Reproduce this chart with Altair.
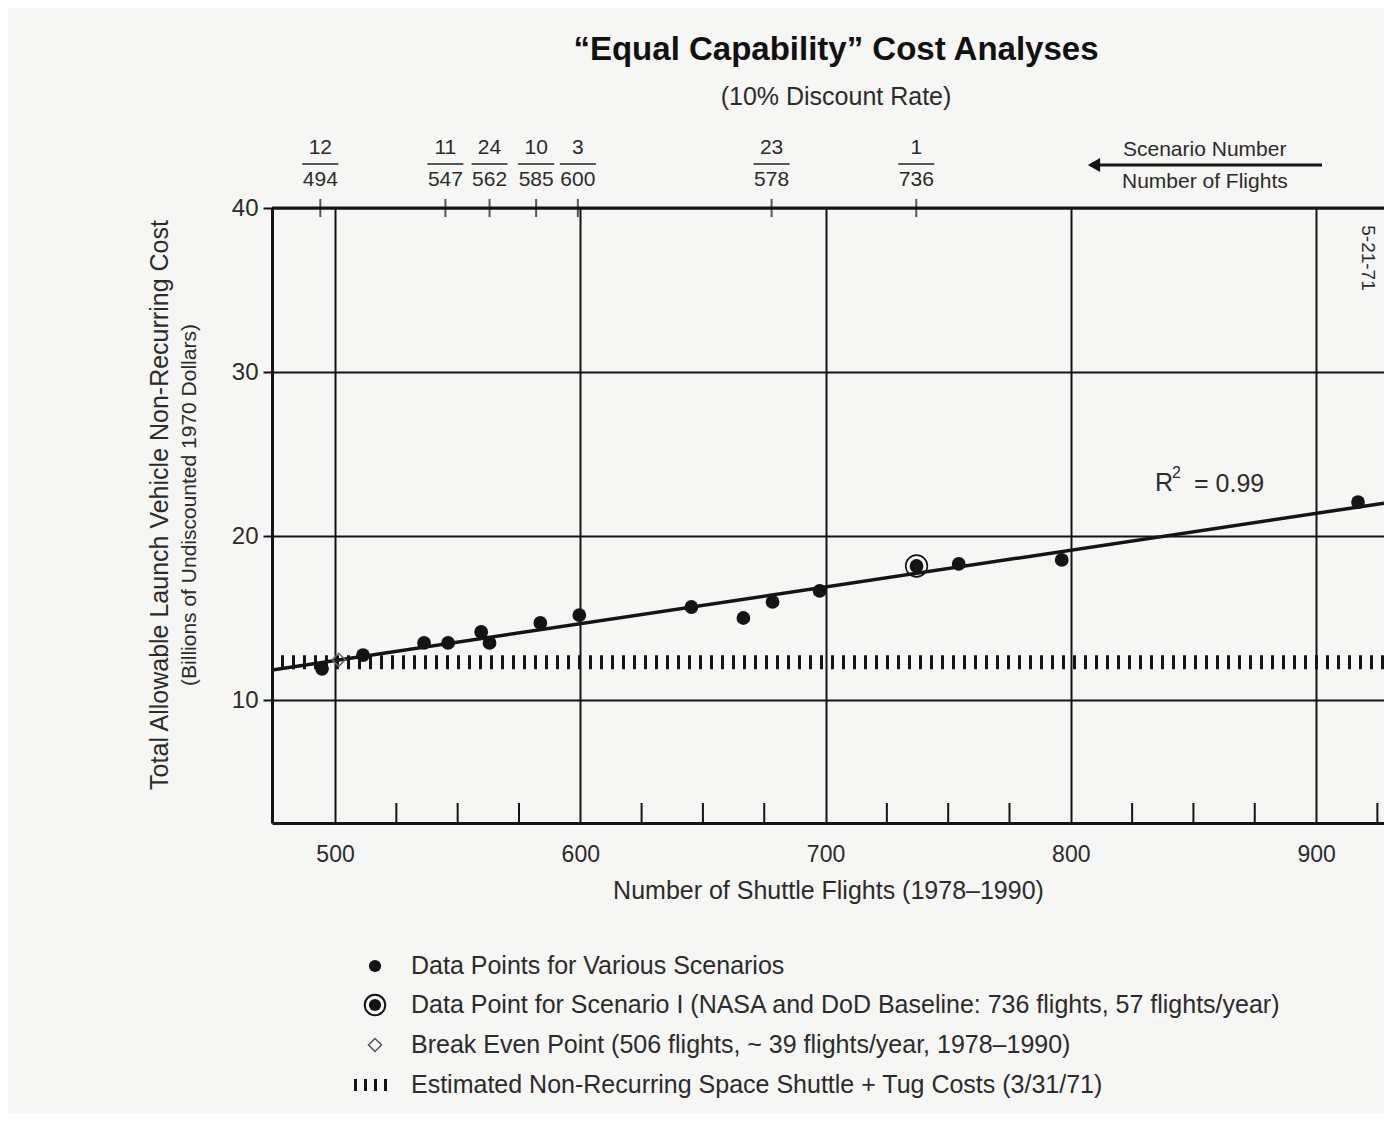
import altair as alt
import pandas as pd

# ---------------- data ----------------
scenario_flights = [494.7, 511.4, 536.3, 546.1, 559.6, 563.0, 583.7, 599.6,
                    645.3, 666.5, 678.4, 697.6, 754.3, 796.3, 917.1]
scenario_cost = [11.9, 12.74, 13.48, 13.48, 14.15, 13.48, 14.7, 15.18,
                 15.67, 15.0, 15.98, 16.65, 18.3, 18.54, 22.07]
baseline_flights = [737.1]
baseline_cost = [18.17]
breakeven_flights = [501.5]
breakeven_cost = [12.45]
fit_flights = [474.3, 927.7]
fit_cost = [11.83, 22.0]
shuttle_tug_cost = [12.3]
top_tick_flights = [494, 545, 563, 582, 599, 678, 737]
top_scenario_numbers = ["12", "11", "24", "10", "3", "23", "1"]
top_flight_labels = ["494", "547", "562", "585", "600", "578", "736"]
x_major = [500, 600, 700, 800, 900]
x_minor = [525, 550, 575, 625, 650, 675, 725, 750, 775, 825, 850, 875, 925]
y_major = [10, 20, 30, 40]

# ---------------- styling ----------------
INK = "#141414"
TXT = "#2b2b2b"
FONT = "Liberation Sans, Arial, sans-serif"
W, H = 1112, 615

xs = alt.Scale(domain=[474.3, 927.7], nice=False, zero=False)
ys = alt.Scale(domain=[2.5, 40], nice=False, zero=False)

x_axis = alt.Axis(values=x_major, grid=True, gridColor=INK, gridWidth=2, gridOpacity=1,
                  ticks=False, domain=True, domainColor=INK, domainWidth=3,
                  labelFontSize=23, labelColor=TXT, labelPadding=20, labelFont=FONT,
                  title="Number of Shuttle Flights (1978–1990)", titleFontSize=25,
                  titleFontWeight="normal", titleColor=TXT, titlePadding=12, titleFont=FONT)
y_axis = alt.Axis(values=y_major, grid=True, gridColor=INK, gridWidth=2, gridOpacity=1,
                  ticks=True, tickSize=9, tickWidth=2, tickColor=INK,
                  domain=True, domainColor=INK, domainWidth=3,
                  labelFontSize=24, labelColor=TXT, labelPadding=5, labelFont=FONT,
                  title=None)


def X(field):
    return alt.X(field, type="quantitative", scale=xs, axis=x_axis)


def Y(field):
    return alt.Y(field, type="quantitative", scale=ys, axis=y_axis)


pts = pd.DataFrame({"flights": scenario_flights, "cost": scenario_cost})
base_df = pd.DataFrame({"flights": baseline_flights, "cost": baseline_cost})
be_df = pd.DataFrame({"flights": breakeven_flights, "cost": breakeven_cost})
fit_df = pd.DataFrame({"flights": fit_flights, "cost": fit_cost})
tug_df = pd.DataFrame({"cost": shuttle_tug_cost})
top_df = pd.DataFrame({"flights": top_tick_flights, "num": top_scenario_numbers,
                       "lab": top_flight_labels})
minor_df = pd.DataFrame({"flights": x_minor})
border_df = pd.DataFrame({"cost": [40]})

points = alt.Chart(pts).mark_circle(size=190, color=INK, opacity=1).encode(
    x=X("flights"), y=Y("cost"))

top_border = alt.Chart(border_df).mark_rule(color=INK, strokeWidth=3).encode(y=Y("cost"))

tug = alt.Chart(tug_df).mark_rule(color=INK, strokeWidth=14, strokeDash=[3, 8]).encode(
    y=Y("cost"))

fit = alt.Chart(fit_df).mark_line(color=INK, strokeWidth=3.5, clip=True).encode(
    x=X("flights"), y=Y("cost"))

base_dot = alt.Chart(base_df).mark_circle(size=190, color=INK, opacity=1).encode(
    x=X("flights"), y=Y("cost"))
base_ring = alt.Chart(base_df).mark_point(size=470, shape="circle", filled=False,
                                          color=INK, strokeWidth=1.6, opacity=1).encode(
    x=X("flights"), y=Y("cost"))

breakeven = alt.Chart(be_df).mark_point(size=170, shape="diamond", filled=False,
                                        color="#666", strokeWidth=1.5, opacity=1).encode(
    x=X("flights"), y=Y("cost"))

minor = alt.Chart(minor_df).mark_rule(color=INK, strokeWidth=2).encode(
    x=X("flights"), y=alt.value(H - 20), y2=alt.value(H))

top_ticks = alt.Chart(top_df).mark_tick(color=INK, thickness=2, size=18).encode(
    x=X("flights"), y=alt.value(0))
top_bars = alt.Chart(top_df).mark_tick(color=INK, thickness=2, size=36,
                                       orient="horizontal").encode(
    x=X("flights"), y=alt.value(-44))
top_nums = alt.Chart(top_df).mark_text(font=FONT, fontSize=21, color=TXT,
                                       baseline="middle").encode(
    x=X("flights"), y=alt.value(-60), text="num:N")
top_labs = alt.Chart(top_df).mark_text(font=FONT, fontSize=21, color=TXT,
                                       baseline="middle").encode(
    x=X("flights"), y=alt.value(-28), text="lab:N")

one = pd.DataFrame({"k": [0]})


def label(text, x, y, size=22, align="left", weight="normal", angle=0, color=TXT):
    return alt.Chart(one).mark_text(text=text, font=FONT, fontSize=size, align=align,
                                    baseline="middle", fontWeight=weight, angle=angle,
                                    color=color).encode(x=alt.value(x), y=alt.value(y))


title = label("“Equal Capability” Cost Analyses", 564, -158, size=33, align="center",
              weight="bold", color="#111")
subtitle = label("(10% Discount Rate)", 564, -111, size=25, align="center")
ytitle1 = label("Total Allowable Launch Vehicle Non-Recurring Cost", -112, 297, size=25,
                align="center", angle=270)
ytitle2 = label("(Billions of Undiscounted 1970 Dollars)", -82, 297, size=21,
                align="center", angle=270)
r2_r = label("R", 883, 275, size=25)
r2_sup = label("2", 900, 265, size=16)
r2_val = label("= 0.99", 922, 276, size=25)
scen1 = label("Scenario Number", 851, -58, size=21)
scen2 = label("Number of Flights", 850, -26, size=21)
arrow = alt.Chart(one).mark_rule(color=INK, strokeWidth=3).encode(
    x=alt.value(818), x2=alt.value(1050), y=alt.value(-43))
arrow_head = alt.Chart(one).mark_point(shape="triangle-left", size=200, filled=True,
                                       color=INK, opacity=1).encode(
    x=alt.value(822), y=alt.value(-43))
stamp = label("5-21-71", 1096, 50, size=19, align="center", angle=90)

# custom legend
lg_dot = alt.Chart(one).mark_circle(size=150, color=INK, opacity=1).encode(
    x=alt.value(103), y=alt.value(758))
lg_ring_dot = alt.Chart(one).mark_circle(size=150, color=INK, opacity=1).encode(
    x=alt.value(103), y=alt.value(797))
lg_ring = alt.Chart(one).mark_point(size=420, shape="circle", filled=False, color=INK,
                                    strokeWidth=2, opacity=1).encode(
    x=alt.value(103), y=alt.value(797))
lg_diamond = alt.Chart(one).mark_point(size=170, shape="diamond", filled=False,
                                       color="#555", strokeWidth=1.5, opacity=1).encode(
    x=alt.value(103), y=alt.value(837))
lg_hash = alt.Chart(one).mark_rule(color=INK, strokeWidth=12, strokeDash=[3, 7]).encode(
    x=alt.value(82), x2=alt.value(118), y=alt.value(877))
lg1 = label("Data Points for Various Scenarios", 139, 758, size=25)
lg2 = label("Data Point for Scenario I (NASA and DoD Baseline: 736 flights, 57 flights/year)",
            139, 797, size=25)
lg3 = label("Break Even Point (506 flights, ~ 39 flights/year, 1978–1990)", 139, 837, size=25)
lg4 = label("Estimated Non-Recurring Space Shuttle + Tug Costs (3/31/71)", 139, 877, size=25)

chart = alt.layer(
    points, top_border, tug, fit, base_ring, base_dot, breakeven, minor,
    top_ticks, top_bars, top_nums, top_labs,
    title, subtitle, ytitle1, ytitle2, r2_r, r2_sup, r2_val, scen1, scen2, arrow,
    arrow_head, stamp,
    lg_dot, lg_ring, lg_ring_dot, lg_diamond, lg_hash, lg1, lg2, lg3, lg4,
).properties(
    width=W, height=H,
    autosize=alt.AutoSizeParams(type="none"),
    padding={"left": 264, "top": 200, "right": 0, "bottom": 290},
    background="#f6f6f4",
).configure_view(strokeWidth=0)

chart.save("out.html", embed_options={"renderer": "svg", "actions": False})
